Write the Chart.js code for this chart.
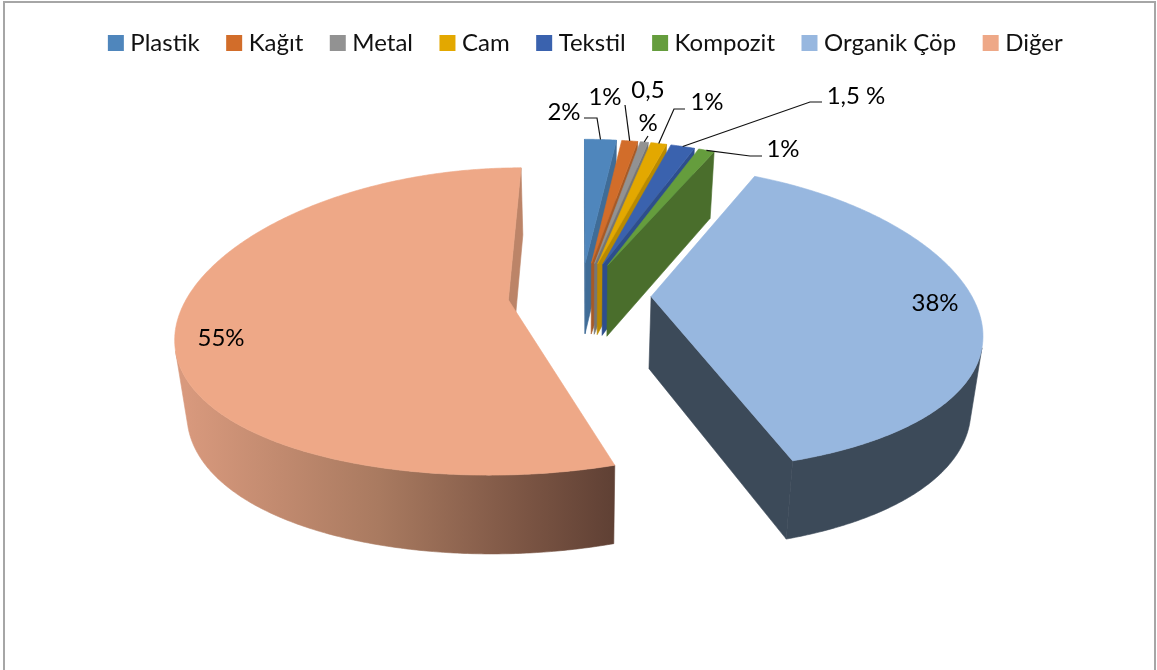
<!DOCTYPE html>
<html lang="tr">
<head>
<meta charset="utf-8">
<title>Atık bileşimi</title>
<style>
html,body{margin:0;padding:0;background:#fff;overflow:hidden}
canvas{display:block}
</style>
<script src="https://cdn.jsdelivr.net/npm/chart.js@4/dist/chart.umd.js"></script>
</head>
<body>
<canvas id="c" width="1157" height="670"></canvas>
<script>
const categories = ['Plastik','Kağıt','Metal','Cam','Tekstil','Kompozit','Organik Çöp','Diğer'];
const values = [2,1,0.5,1,1.5,1,38,55];
const valueLabels = ['2%','1%','0,5\n%','1%','1,5 %','1%','38%','55%'];
const topColors = ['#4F86BC','#D26D2A','#929292','#E3A800','#3A62AE','#659D3D','#97B7DF','#EEA887'];
const sideColors = ['#3F6C97','#A75A26','#757575','#B98A00','#2D4E8D','#4A6E2C','#3C4A59','#BC8468'];

// Excel-like 3D view: perspective, tilt and wall height
const VIEW = {perspX:0.21, perspY:0.14, tilt:0.466, depth:72, bottomShrink:0.97};
const FONT = '24px Lato, Carlito, sans-serif';
// where each value label sits, and the elbow of its leader line (null = no leader)
const labelSpots = [
  {x:564,y:112,elbow:[[584,118],[597,118]]},
  {x:605,y:97,elbow:[[625,105]]},
  {x:648,y:90,y2:123,elbow:[[648,136]]},
  {x:707,y:102,elbow:[[685,109],[674,109]]},
  {x:856,y:96,elbow:[[822,102],[810,102]]},
  {x:783,y:149,elbow:[[762,156],[750,156]]},
  {x:935,y:303},
  {x:221,y:338}
];

function projector(arc){
  const {x,y,startAngle,endAngle,outerRadius:R} = arc.getProps(['x','y','startAngle','endAngle','outerRadius'],true);
  const off = arc.options.offset||0, mid=(startAngle+endAngle)/2;
  const ox=Math.cos(mid)*off, oy=Math.sin(mid)*off;
  return function(a,r,z){
    const u=(ox+r*Math.cos(a))/R, v=(oy+r*Math.sin(a))/R;
    const wx=1/(1-VIEW.perspX*v), wy=1/(1-VIEW.perspY*v), s=z?VIEW.bottomShrink:1;
    return [x+R*u*wx*s, y+R*VIEW.tilt*v*wy*s+(z?VIEW.depth*wy:0)];
  };
}
function area(p){let t=0;for(let i=0;i<p.length;i++){const a=p[i],b=p[(i+1)%p.length];t+=a[0]*b[1]-b[0]*a[1];}return t;}
function poly(ctx,p,fill){
  ctx.beginPath();p.forEach((q,i)=>i?ctx.lineTo(q[0],q[1]):ctx.moveTo(q[0],q[1]));ctx.closePath();
  ctx.fillStyle=fill;ctx.strokeStyle=fill;ctx.lineWidth=0.6;ctx.lineJoin='round';ctx.fill();ctx.stroke();
}
// each slice is drawn as a 3D wedge from the arc element's own geometry
Chart.ArcElement.prototype.draw=function(ctx){
  const P=projector(this), i=this.$context.dataIndex;
  const {startAngle:s,endAngle:e,outerRadius:R}=this.getProps(['startAngle','endAngle','outerRadius'],true);
  const side=sideColors[i];
  const step=Math.PI/360, n=Math.max(2,Math.ceil((e-s)/step));
  const face=a=>[P(a,0,0),P(a,R,0),P(a,R,1),P(a,0,1)];
  ctx.save();
  const fs=face(s), fe=face(e);
  if(area(fs)<0) poly(ctx,fs,side);
  if(area(fe)>0) poly(ctx,fe,side);
  let wallFill=side;
  if(i===values.length-1){
    const g=ctx.createLinearGradient(P(Math.PI,R,0)[0],0,P(s,R,0)[0],0);
    g.addColorStop(0,'#D8997D');g.addColorStop(0.45,'#A97A60');g.addColorStop(0.8,'#7A5443');g.addColorStop(1,'#5F4034');
    wallFill=g;
  }
  // visible part of the outer wall, as one continuous shape per run
  let runTop=[],runBottom=[];
  const flush=()=>{ if(runTop.length) poly(ctx,runTop.concat(runBottom.reverse()),wallFill); runTop=[];runBottom=[]; };
  for(let k=0;k<n;k++){
    const a=s+(e-s)*k/n,b=s+(e-s)*(k+1)/n;
    const q=[P(a,R,0),P(b,R,0),P(b,R,1),P(a,R,1)];
    if(area(q)<0){
      if(!runTop.length){runTop.push(q[0]);runBottom.push(q[3]);}
      runTop.push(q[1]);runBottom.push(q[2]);
    } else flush();
  }
  flush();
  const top=[P(s,0,0)];
  for(let k=0;k<=n;k++) top.push(P(s+(e-s)*k/n,R,0));
  poly(ctx,top,topColors[i]);
  ctx.restore();
};

const frame={id:'frame',
  afterLayout(c){ c.legend.left+=7; c.legend.right+=7; },
  beforeDraw(c){
    const x=c.ctx;x.save();x.strokeStyle='#A6A6A6';x.lineWidth=2;
    x.beginPath();x.moveTo(4,672);x.lineTo(4,2);x.lineTo(1155,2);x.lineTo(1155,672);x.stroke();x.restore();
  }
};
const labels={id:'valueLabels',afterDatasetsDraw(c){
  const x=c.ctx, arcs=c.getDatasetMeta(0).data;
  x.save();x.font=FONT;x.fillStyle='#000';x.textAlign='center';x.textBaseline='middle';
  arcs.forEach((arc,i)=>{
    const spot=labelSpots[i], parts=valueLabels[i].split('\n');
    if(spot.elbow){
      const P=projector(arc),{startAngle:s,endAngle:e,outerRadius:R}=arc.getProps(['startAngle','endAngle','outerRadius'],true);
      const end=P((s+e)/2,R,0);
      x.beginPath();spot.elbow.forEach((q,k)=>k?x.lineTo(q[0],q[1]):x.moveTo(q[0],q[1]));x.lineTo(end[0],end[1]);
      x.strokeStyle='#111';x.lineWidth=1.2;x.stroke();
    }
    x.fillText(parts[0],spot.x,spot.y);
    if(parts[1]) x.fillText(parts[1],spot.x,spot.y2);
  });
  x.restore();
}};

new Chart(document.getElementById('c'),{
  type:'pie',
  plugins:[frame,labels],
  data:{labels:categories,datasets:[{
    data:values,
    backgroundColor:topColors,
    borderWidth:0,
    offset:[70,70,70,70,70,70,70,73],
    clip:false
  }]},
  options:{
    responsive:false,
    animation:false,
    rotation:0,
    radius:320,
    layout:{padding:{left:5,top:-1,bottom:146}},
    plugins:{
      tooltip:{enabled:false},
      legend:{
        position:'top',
        labels:{
          font:{family:'Lato, Carlito, sans-serif',size:24},
          color:'#111',
          boxWidth:5,boxHeight:5,padding:32,
          generateLabels:()=>categories.map((t,i)=>({text:t,fillStyle:topColors[i],strokeStyle:topColors[i],lineWidth:11,lineJoin:'miter',hidden:false,index:i,fontColor:'#111'}))
        }
      }
    }
  }
});
</script>
</body>
</html>
